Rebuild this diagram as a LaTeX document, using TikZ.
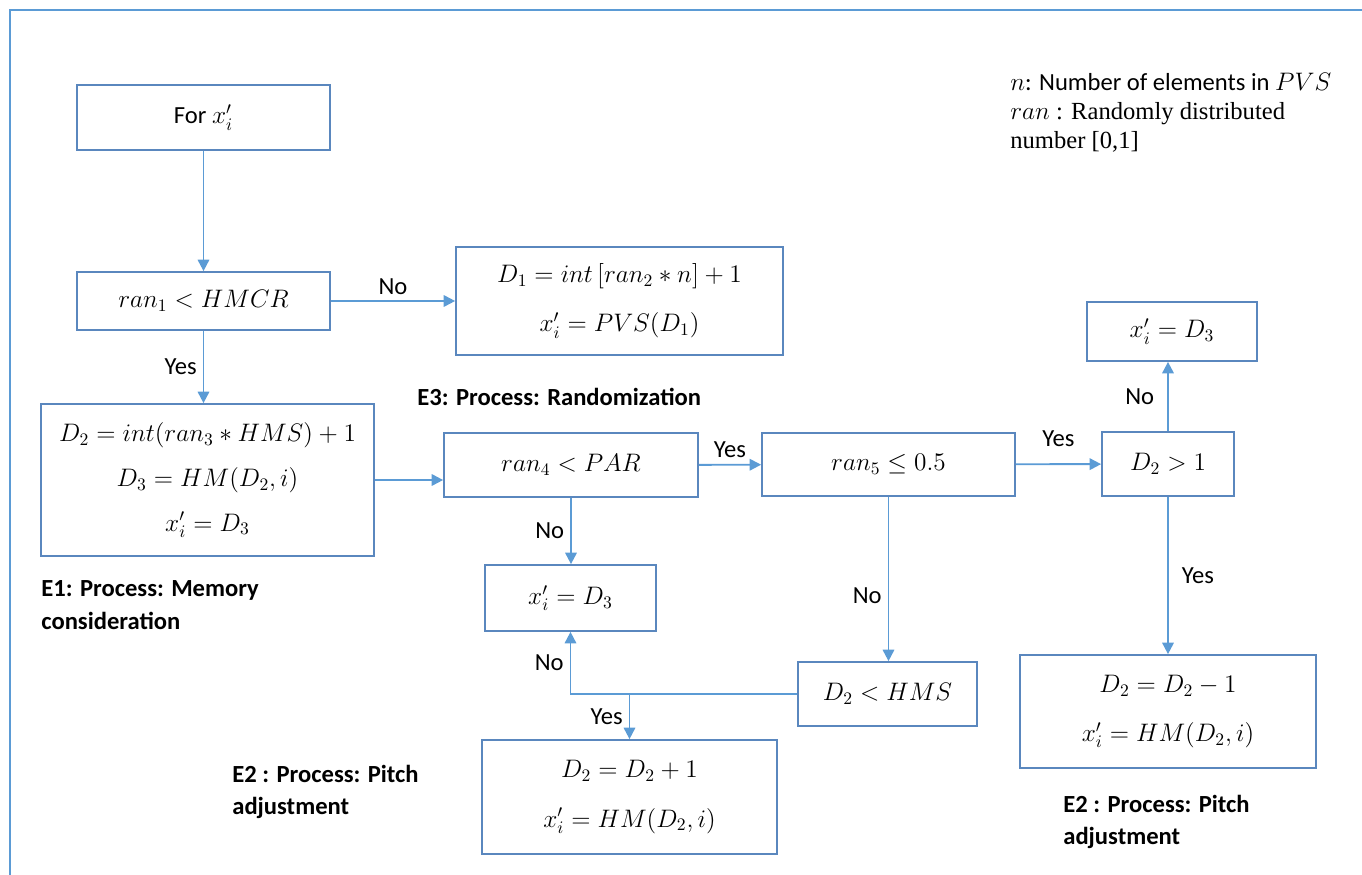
\documentclass[tikz,border=0pt]{standalone}
\usepackage{fontspec}
\setmainfont{Carlito}
\newfontfamily\timesfont{Liberation Serif}
\usetikzlibrary{arrows.meta,positioning}
\definecolor{boxblue}{HTML}{5A87BE}
\definecolor{arrblue}{HTML}{5B9BD5}

\begin{document}
\begin{tikzpicture}[x=0.02cm,y=-0.02cm,font=\fontsize{14}{17}\selectfont,
  box/.style={draw=boxblue,line width=1pt,align=center,inner sep=0pt},
  arr/.style={draw=arrblue,line width=1.1pt,-{Triangle[width=6.5pt,length=6.5pt]}},
  lbl/.style={font=\fontsize{14}{18.5}\selectfont\bfseries,align=left,anchor=west,inner sep=0pt}]
\useasboundingbox (0,0) rectangle (1362,875);
\draw[arrblue,line width=1.7pt] (10,875)--(10,10)--(1362,10);
% boxes
\node[box,minimum width=5.06cm,minimum height=1.30cm] (forx) at (203.5,117.5) {For $x'_i$};
\node[box,minimum width=5.06cm,minimum height=1.16cm] (hmcr) at (203.5,301) {$ran_1 < HMCR$};
\node[box,minimum width=6.54cm,minimum height=2.16cm] (rnd) at (619.5,301) {$D_1 = int\,[ran_2 * n] + 1$\\[11pt] $x'_i = PVS(D_1)$};
\node[box,minimum width=6.66cm,minimum height=3.04cm] (mem) at (207.5,480) {$D_2 = int(ran_3 * HMS) + 1$\\[8.5pt] $D_3 = HM(D_2,i)$\\[8.5pt] $x'_i = D_3$};
\node[box,minimum width=5.08cm,minimum height=1.28cm] (par) at (571,465) {$ran_4 < PAR$};
\node[box,minimum width=5.06cm,minimum height=1.26cm] (half) at (888.5,464.5) {$ran_5 \leq 0.5$};
\node[box,minimum width=2.64cm,minimum height=1.28cm] (gtone) at (1168,464) {$D_2 > 1$};
\node[box,minimum width=3.40cm,minimum height=1.18cm] (keeptop) at (1172,331.5) {$x'_i = D_3$};
\node[box,minimum width=3.42cm,minimum height=1.32cm] (keepmid) at (570.5,598) {$x'_i = D_3$};
\node[box,minimum width=3.58cm,minimum height=1.28cm] (hms) at (887.5,694) {$D_2 < HMS$};
\node[box,minimum width=5.90cm,minimum height=2.28cm] (incr) at (629.5,797) {$D_2 = D_2 + 1$\\[11pt] $x'_i = HM(D_2,i)$};
\node[box,minimum width=5.92cm,minimum height=2.26cm] (decr) at (1168,711.5) {$D_2 = D_2 - 1$\\[11pt] $x'_i = HM(D_2,i)$};
% process captions
\node[lbl] (e3) at (417,397) {E3: Process: Randomization};
\node[lbl] (e1) at (41,605) {E1: Process: Memory\\consideration};
\node[lbl] (e2a) at (232,792) {E2 : Process: Pitch\\adjustment};
\node[lbl] (e2b) at (1063,822) {E2 : Process: Pitch\\adjustment};
\node[align=left,anchor=west,inner sep=0pt,font=\fontsize{14}{16.4}\selectfont] (legend) at (1010,113)
  {$n$: Number of elements in $PVS$\\ \timesfont $ran$ : Randomly distributed\\ \timesfont number [0,1]};
% connectors
\draw[arr] (forx) -- (hmcr);
\draw[arr] (hmcr) -- node[above] {No} (rnd);
\draw[arr] (hmcr.south) -- node[left] {Yes} (hmcr.south |- mem.north);
\draw[arr] (mem.east) -- (mem.east -| par.west);
\draw[arr] (par) -- node[above] {Yes} (half);
\draw[arr] (par.south) -- node[left] {No} (par.south |- keepmid.north);
\draw[arr] (half) -- node[above=6pt] {Yes} (gtone);
\draw[arr] (half.south) -- node[pos=.6,left] {No} (half.south |- hms.north);
\draw[arr] (gtone.north) -- node[left=4pt] {No} (gtone.north |- keeptop.south);
\draw[arr] (gtone.south) -- node[right=4pt] {Yes} (decr.north);
\draw[arr] (hms.west) -| node[pos=.75,left] {No} (keepmid.south);
\coordinate (split) at (hms.west -| incr.north);
\draw[arr] (split) -- node[left] {Yes} (incr.north);
\end{tikzpicture}
\end{document}
